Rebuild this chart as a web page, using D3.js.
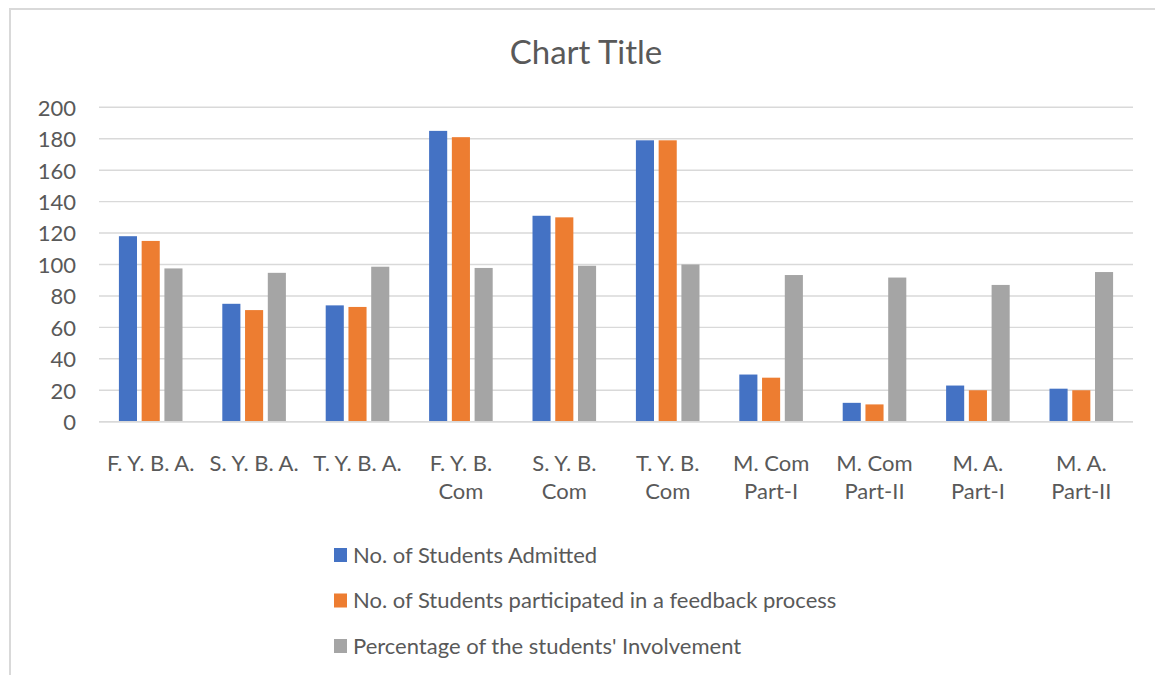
<!DOCTYPE html>
<html>
<head>
<meta charset="utf-8">
<script src="https://cdn.jsdelivr.net/npm/d3@7"></script>
<style>
  html, body { margin: 0; padding: 0; background: #ffffff; }
  svg { display: block; font-family: Lato, "Open Sans", sans-serif; }
</style>
</head>
<body>
<svg id="chart" width="1155" height="675"></svg>
<script>
const categories = ["F. Y. B. A.", "S. Y. B. A.", "T. Y. B. A.", "F. Y. B. Com", "S. Y. B. Com",
                    "T. Y. B. Com", "M. Com Part-I", "M. Com Part-II", "M. A. Part-I", "M. A. Part-II"];
const tickLabels = [["F. Y. B. A."], ["S. Y. B. A."], ["T. Y. B. A."], ["F. Y. B.", "Com"], ["S. Y. B.", "Com"],
                    ["T. Y. B.", "Com"], ["M. Com", "Part-I"], ["M. Com", "Part-II"], ["M. A.", "Part-I"], ["M. A.", "Part-II"]];
const seriesNames = ["No. of Students Admitted",
                     "No. of Students participated in a feedback process",
                     "Percentage of the students' Involvement"];
const admitted     = [118, 75, 74, 185, 131, 179, 30, 12, 23, 21];
const participated = [115, 71, 73, 181, 130, 179, 28, 11, 20, 20];
const percentage   = [97.5, 94.7, 98.6, 97.8, 99.2, 100, 93.3, 91.7, 87, 95.2];
const yTicks = [0, 20, 40, 60, 80, 100, 120, 140, 160, 180, 200];
const colors = ["#4472C4", "#ED7D31", "#A5A5A5"];
const chartTitle = "Chart Title";

const series = [admitted, participated, percentage];

const svg = d3.select("#chart");
const textColor = "#595959";
const gridColor = "#d9d9d9";

// chart area border
svg.append("path")
  .attr("d", "M10,675 L10,9 L1155,9")
  .attr("fill", "none")
  .attr("stroke", gridColor)
  .attr("stroke-width", 2);

const plot = { left: 99, right: 1133, top: 107.3, bottom: 421.7 };

const x = d3.scaleBand().domain(categories).range([plot.left, plot.right]).padding(0);
const y = d3.scaleLinear().domain([0, 200]).range([plot.bottom, plot.top]);

// title
svg.append("text")
  .attr("x", 586).attr("y", 64)
  .attr("text-anchor", "middle")
  .attr("font-size", 33)
  .attr("fill", textColor)
  .text(chartTitle);

// gridlines
svg.append("g")
  .selectAll("line")
  .data(yTicks)
  .join("line")
  .attr("x1", plot.left).attr("x2", plot.right)
  .attr("y1", d => y(d)).attr("y2", d => y(d))
  .attr("stroke", gridColor)
  .attr("stroke-width", 1.4);

// y axis labels
const yAxis = d3.axisLeft(y).tickValues(yTicks).tickSize(0).tickPadding(0);
const gy = svg.append("g").attr("transform", "translate(76,0)").call(yAxis);
gy.select(".domain").remove();
gy.selectAll("text")
  .attr("font-family", "Lato, 'Open Sans', sans-serif")
  .attr("font-size", 22)
  .attr("fill", textColor)
  .attr("dy", "0.36em");

// bars
const band = x.bandwidth();
const barW = band * 0.175;
const step = band * 0.22;
const groupW = step * 2 + barW;

series.forEach((vals, si) => {
  svg.append("g")
    .selectAll("rect")
    .data(vals)
    .join("rect")
    .attr("x", (d, i) => x(categories[i]) + band / 2 - groupW / 2 + si * step)
    .attr("y", d => y(d))
    .attr("width", barW)
    .attr("height", d => y(0) - y(d))
    .attr("fill", colors[si]);
});

// x axis baseline
svg.append("line")
  .attr("x1", plot.left).attr("x2", plot.right)
  .attr("y1", y(0)).attr("y2", y(0))
  .attr("stroke", gridColor)
  .attr("stroke-width", 1.4);

// x axis labels
const xAxis = d3.axisBottom(x).tickSize(0).tickFormat(() => "");
const gx = svg.append("g").attr("transform", `translate(0,${y(0)})`).call(xAxis);
gx.select(".domain").remove();
gx.selectAll(".tick").each(function(d, i) {
  const t = d3.select(this).select("text")
    .attr("font-family", "Lato, 'Open Sans', sans-serif")
    .attr("font-size", 22)
    .attr("fill", textColor)
    .attr("y", 0).attr("dy", null);
  tickLabels[i].forEach((line, li) => {
    t.append("tspan").attr("x", 0).attr("y", 49 + li * 28).text(line);
  });
});

// legend
const legend = svg.append("g");
seriesNames.forEach((name, i) => {
  const cy = 555 + i * 45.5;
  legend.append("rect")
    .attr("x", 334).attr("y", cy - 7)
    .attr("width", 13).attr("height", 14)
    .attr("fill", colors[i]);
  legend.append("text")
    .attr("x", 353).attr("y", cy)
    .attr("dy", "0.36em")
    .attr("font-size", 22)
    .attr("fill", textColor)
    .text(name);
});
</script>
</body>
</html>
